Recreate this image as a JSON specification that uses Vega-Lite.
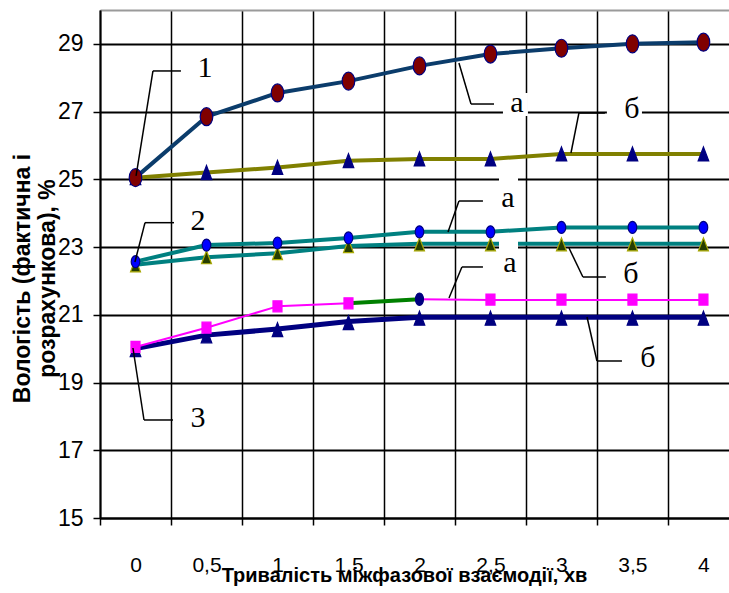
{
  "$schema": "https://vega.github.io/schema/vega-lite/v6.json",
  "width": 629,
  "height": 508,
  "autosize": {"type": "none"},
  "padding": {"left": 100, "top": 10, "right": 0, "bottom": 75},
  "background": "white",
  "config": {"view": {"stroke": null}},
  "datasets": {
    "lines": [
      {"s": "1a", "x": 0, "y": 25.05}, {"s": "1a", "x": 0.5, "y": 26.85}, {"s": "1a", "x": 1, "y": 27.55}, {"s": "1a", "x": 1.5, "y": 27.9}, {"s": "1a", "x": 2, "y": 28.35}, {"s": "1a", "x": 2.5, "y": 28.7}, {"s": "1a", "x": 3, "y": 28.87}, {"s": "1a", "x": 3.5, "y": 29.0}, {"s": "1a", "x": 4, "y": 29.05},
      {"s": "1b", "x": 0, "y": 25.05}, {"s": "1b", "x": 0.5, "y": 25.2}, {"s": "1b", "x": 1, "y": 25.35}, {"s": "1b", "x": 1.5, "y": 25.55}, {"s": "1b", "x": 2, "y": 25.6}, {"s": "1b", "x": 2.5, "y": 25.6}, {"s": "1b", "x": 3, "y": 25.75}, {"s": "1b", "x": 3.5, "y": 25.75}, {"s": "1b", "x": 4, "y": 25.75},
      {"s": "2a", "x": 0, "y": 22.57}, {"s": "2a", "x": 0.5, "y": 23.06}, {"s": "2a", "x": 1, "y": 23.12}, {"s": "2a", "x": 1.5, "y": 23.27}, {"s": "2a", "x": 2, "y": 23.45}, {"s": "2a", "x": 2.5, "y": 23.45}, {"s": "2a", "x": 3, "y": 23.58}, {"s": "2a", "x": 3.5, "y": 23.58}, {"s": "2a", "x": 4, "y": 23.58},
      {"s": "2b", "x": 0, "y": 22.48}, {"s": "2b", "x": 0.5, "y": 22.7}, {"s": "2b", "x": 1, "y": 22.82}, {"s": "2b", "x": 1.5, "y": 23.03}, {"s": "2b", "x": 2, "y": 23.1}, {"s": "2b", "x": 2.5, "y": 23.1}, {"s": "2b", "x": 3, "y": 23.1}, {"s": "2b", "x": 3.5, "y": 23.1}, {"s": "2b", "x": 4, "y": 23.1},
      {"s": "3b", "x": 0, "y": 20.0}, {"s": "3b", "x": 0.5, "y": 20.4}, {"s": "3b", "x": 1, "y": 20.58}, {"s": "3b", "x": 1.5, "y": 20.8}, {"s": "3b", "x": 2, "y": 20.93}, {"s": "3b", "x": 2.5, "y": 20.93}, {"s": "3b", "x": 3, "y": 20.93}, {"s": "3b", "x": 3.5, "y": 20.93}, {"s": "3b", "x": 4, "y": 20.93},
      {"s": "3a1", "x": 0, "y": 20.05}, {"s": "3a1", "x": 0.5, "y": 20.62}, {"s": "3a1", "x": 1, "y": 21.25}, {"s": "3a1", "x": 1.5, "y": 21.34},
      {"s": "3ag", "x": 1.5, "y": 21.34}, {"s": "3ag", "x": 2, "y": 21.46},
      {"s": "3a2", "x": 2, "y": 21.46}, {"s": "3a2", "x": 2.5, "y": 21.44}, {"s": "3a2", "x": 3, "y": 21.44}, {"s": "3a2", "x": 3.5, "y": 21.44}, {"s": "3a2", "x": 4, "y": 21.44}
    ],
    "points": [
      {"k": "1b", "x": 0, "y": 25.05}, {"k": "1b", "x": 0.5, "y": 25.2}, {"k": "1b", "x": 1, "y": 25.35}, {"k": "1b", "x": 1.5, "y": 25.55}, {"k": "1b", "x": 2, "y": 25.6}, {"k": "1b", "x": 2.5, "y": 25.6}, {"k": "1b", "x": 3, "y": 25.75}, {"k": "1b", "x": 3.5, "y": 25.75}, {"k": "1b", "x": 4, "y": 25.75},
      {"k": "2b", "x": 0, "y": 22.46}, {"k": "2b", "x": 0.5, "y": 22.7}, {"k": "2b", "x": 1, "y": 22.82}, {"k": "2b", "x": 1.5, "y": 23.03}, {"k": "2b", "x": 2, "y": 23.08}, {"k": "2b", "x": 2.5, "y": 23.08}, {"k": "2b", "x": 3, "y": 23.08}, {"k": "2b", "x": 3.5, "y": 23.08}, {"k": "2b", "x": 4, "y": 23.08},
      {"k": "3b", "x": 0, "y": 19.97}, {"k": "3b", "x": 0.5, "y": 20.38}, {"k": "3b", "x": 1, "y": 20.56}, {"k": "3b", "x": 1.5, "y": 20.77}, {"k": "3b", "x": 2, "y": 20.9}, {"k": "3b", "x": 2.5, "y": 20.9}, {"k": "3b", "x": 3, "y": 20.9}, {"k": "3b", "x": 3.5, "y": 20.9}, {"k": "3b", "x": 4, "y": 20.9},
      {"k": "1a", "x": 0, "y": 25.05}, {"k": "1a", "x": 0.5, "y": 26.85}, {"k": "1a", "x": 1, "y": 27.55}, {"k": "1a", "x": 1.5, "y": 27.9}, {"k": "1a", "x": 2, "y": 28.35}, {"k": "1a", "x": 2.5, "y": 28.7}, {"k": "1a", "x": 3, "y": 28.87}, {"k": "1a", "x": 3.5, "y": 29.0}, {"k": "1a", "x": 4, "y": 29.05},
      {"k": "2a", "x": 0, "y": 22.57}, {"k": "2a", "x": 0.5, "y": 23.06}, {"k": "2a", "x": 1, "y": 23.12}, {"k": "2a", "x": 1.5, "y": 23.27}, {"k": "2a", "x": 2, "y": 23.45}, {"k": "2a", "x": 2.5, "y": 23.45}, {"k": "2a", "x": 3, "y": 23.58}, {"k": "2a", "x": 3.5, "y": 23.58}, {"k": "2a", "x": 4, "y": 23.58},
      {"k": "3a", "x": 0, "y": 20.05}, {"k": "3a", "x": 0.5, "y": 20.62}, {"k": "3a", "x": 1, "y": 21.25}, {"k": "3a", "x": 1.5, "y": 21.34}, {"k": "3ad", "x": 2, "y": 21.46}, {"k": "3a", "x": 2.5, "y": 21.45}, {"k": "3a", "x": 3, "y": 21.45}, {"k": "3a", "x": 3.5, "y": 21.45}, {"k": "3a", "x": 4, "y": 21.45}
    ],
    "boxes": [
      {"x": 2.588, "y": 27.55, "x2": 2.764, "y2": 26.87},
      {"x": 3.32, "y": 27.34, "x2": 3.567, "y2": 26.69},
      {"x": 2.56, "y": 25.1, "x2": 2.694, "y2": 24.04},
      {"x": 2.56, "y": 23.21, "x2": 2.694, "y2": 22.18}
    ],
    "leaders": [
      {"x": 0.004, "y": 25.1, "x2": 0.123, "y2": 28.2}, {"x": 0.123, "y": 28.2, "x2": 0.32, "y2": 28.2},
      {"x": 2.278, "y": 28.435, "x2": 2.363, "y2": 27.224}, {"x": 2.363, "y": 27.224, "x2": 2.525, "y2": 27.224},
      {"x": 3.067, "y": 25.778, "x2": 3.123, "y2": 26.959}, {"x": 3.123, "y": 26.959, "x2": 3.306, "y2": 26.959},
      {"x": -0.004, "y": 22.559, "x2": 0.067, "y2": 23.72}, {"x": 0.067, "y": 23.72, "x2": 0.271, "y2": 23.72},
      {"x": 2.201, "y": 23.445, "x2": 2.278, "y2": 24.36}, {"x": 2.278, "y": 24.36, "x2": 2.447, "y2": 24.36},
      {"x": 2.208, "y": 21.496, "x2": 2.299, "y2": 22.412}, {"x": 2.299, "y": 22.412, "x2": 2.447, "y2": 22.412},
      {"x": 3.053, "y": 22.973, "x2": 3.151, "y2": 22.116}, {"x": 3.151, "y": 22.116, "x2": 3.313, "y2": 22.116},
      {"x": 3.18, "y": 20.935, "x2": 3.25, "y2": 19.636}, {"x": 3.25, "y": 19.636, "x2": 3.426, "y2": 19.636},
      {"x": -0.018, "y": 20.02, "x2": 0.06, "y2": 17.894}, {"x": 0.06, "y": 17.894, "x2": 0.264, "y2": 17.894}
    ],
    "labels": [
      {"x": 0.489, "y": 28.02, "t": "1"},
      {"x": 2.687, "y": 26.988, "t": "а"},
      {"x": 3.496, "y": 26.811, "t": "б"},
      {"x": 0.44, "y": 23.5, "t": "2"},
      {"x": 2.623, "y": 24.183, "t": "а"},
      {"x": 2.637, "y": 22.264, "t": "а"},
      {"x": 3.489, "y": 21.939, "t": "б"},
      {"x": 3.609, "y": 19.459, "t": "б"},
      {"x": 0.44, "y": 17.687, "t": "3"}
    ]
  },
  "encoding": {
    "x": {
      "field": "x",
      "type": "quantitative",
      "scale": {"domain": [-0.25, 4.18], "nice": false, "zero": false},
      "axis": {
        "values": [-0.25, 0, 0.25, 0.5, 0.75, 1, 1.25, 1.5, 1.75, 2, 2.25, 2.5, 2.75, 3, 3.25, 3.5, 3.75, 4],
        "labelExpr": "round(datum.value*4) % 2 == 0 ? replace(toString(datum.value), '.', ',') : ''",
        "grid": true,
        "gridColor": "black",
        "gridWidth": 1.5,
        "gridOpacity": {"condition": {"test": "round(datum.value*4) % 2 != 0", "value": 1}, "value": 0},
        "tickOpacity": {"condition": {"test": "round(datum.value*4) % 2 != 0", "value": 1}, "value": 0},
        "tickSize": 7,
        "tickWidth": 1.5,
        "tickColor": "black",
        "domainColor": "black",
        "domainWidth": 2,
        "labelFont": "Liberation Sans",
        "labelFontSize": 21,
        "labelColor": "black",
        "labelPadding": 29,
        "labelFlush": false,
        "labelOverlap": false,
        "title": "Тривалість міжфазової взаємодії, хв",
        "titleFont": "Liberation Sans",
        "titleFontSize": 20,
        "titleFontWeight": "bold",
        "titleColor": "black",
        "titleX": 304,
        "titleY": 47,
        "titleBaseline": "top"
      }
    },
    "y": {
      "field": "y",
      "type": "quantitative",
      "scale": {"domain": [15, 30], "nice": false, "zero": false},
      "axis": {
        "values": [15, 17, 19, 21, 23, 25, 27, 29, 30],
        "labelExpr": "datum.value == 30 ? '' : datum.label",
        "grid": true,
        "gridColor": {"condition": {"test": "datum.value == 30", "value": "#9a9a9a"}, "value": "black"},
        "gridWidth": 2,
        "tickColor": "black",
        "tickSize": 7,
        "tickWidth": 1.5,
        "tickOpacity": {"condition": {"test": "datum.value == 30", "value": 0}, "value": 1},
        "domainColor": "black",
        "domainWidth": 2,
        "labelFont": "Liberation Sans",
        "labelFontSize": 23,
        "labelColor": "black",
        "labelPadding": 10,
        "title": ["Вологість (фактична і", "розрахункова), %"],
        "titleFont": "Liberation Sans",
        "titleFontSize": 23,
        "titleFontWeight": "bold",
        "titleColor": "black",
        "titleAngle": -90,
        "titleBaseline": "top",
        "titleAlign": "center",
        "titleX": -89,
        "titleY": 268,
        "titleLineHeight": 25
      }
    }
  },
  "layer": [
    {
      "data": {"name": "lines"},
      "transform": [{"filter": "datum.s == '1a' || datum.s == '1b' || datum.s == '2a' || datum.s == '2b' || datum.s == '3b'"}],
      "mark": {"type": "line", "strokeJoin": "round"},
      "encoding": {
        "color": {"field": "s", "type": "nominal", "scale": {"domain": ["1a", "1b", "2a", "2b", "3b", "3a1", "3ag", "3a2"], "range": ["#0b3c6b", "#808000", "#008080", "#008080", "#000080", "#ff00ff", "#008000", "#ff00ff"]}, "legend": null},
        "strokeWidth": {"field": "s", "type": "nominal", "scale": {"type": "ordinal", "domain": ["1a", "1b", "2a", "2b", "3b", "3a1", "3ag", "3a2"], "range": [4, 4, 4, 4, 5, 2, 4, 2]}, "legend": null},
        "order": {"field": "x", "type": "quantitative"}
      }
    },
    {
      "data": {"name": "lines"},
      "transform": [{"filter": "datum.s == '3a1' || datum.s == '3ag' || datum.s == '3a2'"}],
      "mark": {"type": "line", "strokeJoin": "round"},
      "encoding": {
        "color": {"field": "s", "type": "nominal", "scale": {"domain": ["1a", "1b", "2a", "2b", "3b", "3a1", "3ag", "3a2"], "range": ["#0b3c6b", "#808000", "#008080", "#008080", "#000080", "#ff00ff", "#008000", "#ff00ff"]}, "legend": null},
        "strokeWidth": {"field": "s", "type": "nominal", "scale": {"type": "ordinal", "domain": ["1a", "1b", "2a", "2b", "3b", "3a1", "3ag", "3a2"], "range": [4, 4, 4, 4, 5, 2, 4, 2]}, "legend": null},
        "order": {"field": "x", "type": "quantitative"}
      }
    },
    {
      "data": {"name": "points"},
      "mark": {"type": "point", "filled": true, "opacity": 1, "size": 4, "strokeWidth": 1.2},
      "encoding": {
        "shape": {"field": "k", "type": "nominal", "scale": {"domain": ["1a", "1b", "2a", "2b", "3a", "3ad", "3b"], "range": [
          "M0,-9A6.3,9,0,1,1,0,9A6.3,9,0,1,1,0,-9Z",
          "M0,-7L5.3,7L-5.3,7Z",
          "M0,-6A4.3,6,0,1,1,0,6A4.3,6,0,1,1,0,-6Z",
          "M0,-6.5L5,6.5L-5,6.5Z",
          "M-4.5,-5.5L4.5,-5.5L4.5,5.5L-4.5,5.5Z",
          "M0,-6.2A4,6.2,0,1,1,0,6.2A4,6.2,0,1,1,0,-6.2Z",
          "M0,-7L5.3,7L-5.3,7Z"
        ]}, "legend": null},
        "fill": {"field": "k", "type": "nominal", "scale": {"domain": ["1a", "1b", "2a", "2b", "3a", "3ad", "3b"], "range": ["#800000", "#000080", "#0000ff", "#263d00", "#ff00ff", "#000080", "#000080"]}, "legend": null},
        "stroke": {"field": "k", "type": "nominal", "scale": {"domain": ["1a", "1b", "2a", "2b", "3a", "3ad", "3b"], "range": ["#000080", "#000080", "#000080", "#a8a800", "#ff00ff", "#000080", "#000080"]}, "legend": null}
      }
    },
    {
      "data": {"name": "boxes"},
      "mark": {"type": "rect", "fill": "white"},
      "encoding": {
        "x2": {"field": "x2"},
        "y2": {"field": "y2"}
      }
    },
    {
      "data": {"name": "leaders"},
      "mark": {"type": "rule", "color": "black", "strokeWidth": 1.5},
      "encoding": {
        "x2": {"field": "x2"},
        "y2": {"field": "y2"}
      }
    },
    {
      "data": {"name": "labels"},
      "mark": {"type": "text", "font": "Liberation Serif", "fontSize": 30, "align": "center", "baseline": "alphabetic", "color": "black"},
      "encoding": {
        "text": {"field": "t", "type": "nominal"}
      }
    }
  ]
}
